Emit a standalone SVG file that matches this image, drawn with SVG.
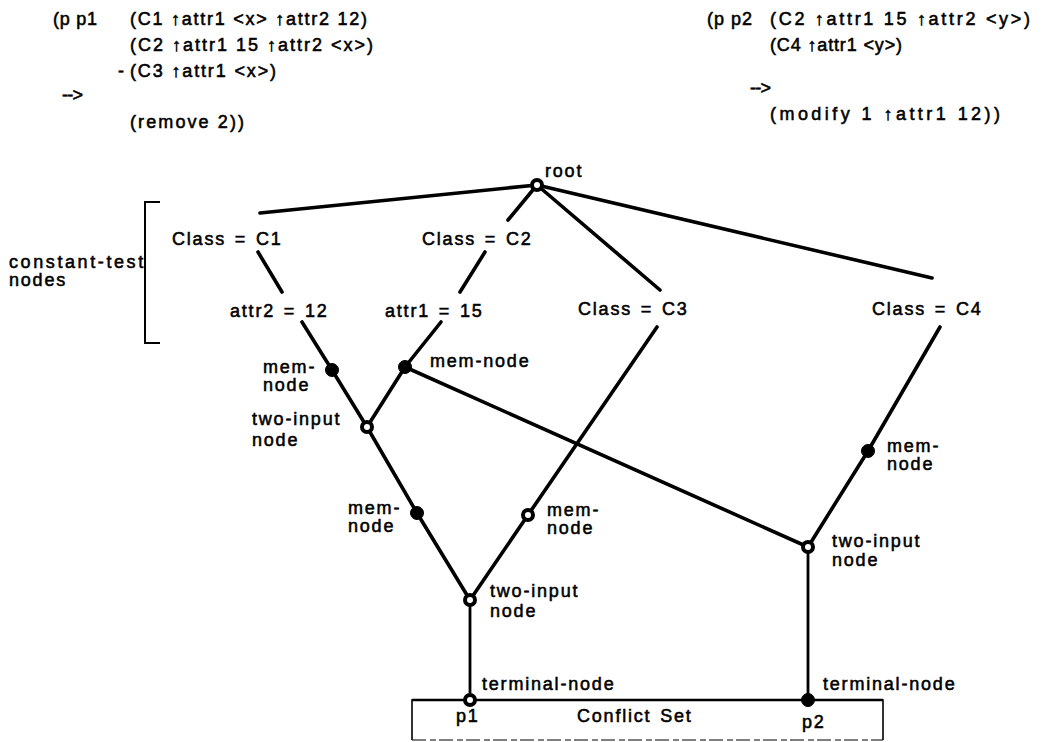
<svg xmlns="http://www.w3.org/2000/svg" width="1045" height="742" viewBox="0 0 1045 742">
<style>
text{font-family:"Liberation Sans",Arial,Helvetica,sans-serif;font-size:18px;fill:#000;stroke:#000;stroke-width:0.55px;letter-spacing:1.8px;word-spacing:2px}
.code{letter-spacing:0;word-spacing:0}
.edge{stroke:#000;stroke-width:3.6;fill:none;stroke-linecap:round;stroke-linejoin:round}
.thin{stroke-width:2.8}
.fill{fill:#000;stroke:#000;stroke-width:1}
.ring{fill:#fff;stroke:#000;stroke-width:4}
.box{fill:none;stroke:#000;stroke-width:1.6}
</style>
<rect width="1045" height="742" fill="#fff"/>
<g id="production-p1">
<text class="code" x="53" y="25" textLength="44" lengthAdjust="spacing">(p p1</text>
<text class="code" x="130" y="25" textLength="237" lengthAdjust="spacing">(C1 ↑attr1 &lt;x&gt;  ↑attr2 12)</text>
<text class="code" x="130" y="51" textLength="243" lengthAdjust="spacing">(C2 ↑attr1 15  ↑attr2 &lt;x&gt;)</text>
<text class="code" x="118" y="77">-</text>
<text class="code" x="130" y="77" textLength="146" lengthAdjust="spacing">(C3 ↑attr1 &lt;x&gt;)</text>
<text class="code" x="62" y="101" textLength="21" lengthAdjust="spacing">--&gt;</text>
<text class="code" x="130" y="128" textLength="114" lengthAdjust="spacing">(remove 2))</text>
</g>
<g id="production-p2">
<text class="code" x="707" y="25" textLength="45" lengthAdjust="spacing">(p p2</text>
<text class="code" x="770" y="25" textLength="260" lengthAdjust="spacing">(C2 ↑attr1 15  ↑attr2 &lt;y&gt;)</text>
<text class="code" x="770" y="51" textLength="132" lengthAdjust="spacing">(C4 ↑attr1 &lt;y&gt;)</text>
<text class="code" x="750" y="94" textLength="21" lengthAdjust="spacing">--&gt;</text>
<text class="code" x="770" y="120" textLength="230" lengthAdjust="spacing">(modify 1 ↑attr1 12))</text>
</g>
<g id="bracket">
<path d="M160,202 H145 V343 H160" fill="none" stroke="#000" stroke-width="2"/>
<text x="9" y="268" textLength="136" lengthAdjust="spacing">constant-test</text>
<text x="9" y="286">nodes</text>
</g>
<g id="connectors">
<line class="edge" x1="537" y1="185" x2="260" y2="213"/>
<line class="edge" x1="537" y1="185" x2="508" y2="220"/>
<line class="edge" x1="537" y1="185" x2="660" y2="290"/>
<line class="edge" x1="537" y1="185" x2="932" y2="278"/>
<line class="edge" x1="258" y1="252" x2="282" y2="292"/>
<line class="edge" x1="485" y1="252" x2="460" y2="292"/>
<polyline class="edge" points="302,322 332,370 367,427 417,513 470,600"/>
<polyline class="edge" points="441,322 405,367 367,427"/>
<line class="edge" x1="405" y1="367" x2="808" y2="547"/>
<polyline class="edge" points="657,327 528,515 470,600"/>
<polyline class="edge" points="940,327 868,451 808,547"/>
<line class="edge thin" x1="470" y1="600" x2="470" y2="700"/>
<line class="edge thin" x1="808" y1="547" x2="808" y2="700"/>
</g>
<g id="n-root"><circle class="ring" cx="537" cy="185" r="5"/><text x="545" y="177">root</text></g>
<g id="n-class-c1"><text x="172" y="245">Class = C1</text></g>
<g id="n-class-c2"><text x="422" y="245">Class = C2</text></g>
<g id="n-class-c3"><text x="578" y="315">Class = C3</text></g>
<g id="n-class-c4"><text x="872" y="315">Class = C4</text></g>
<g id="n-attr2"><text x="230" y="317">attr2 = 12</text></g>
<g id="n-attr1"><text x="385" y="317">attr1 = 15</text></g>
<g id="n-mem1"><circle class="fill" cx="332" cy="370" r="6.5"/><text x="263" y="373">mem-</text><text x="263" y="391">node</text></g>
<g id="n-mem2"><circle class="fill" cx="405" cy="367" r="6.5"/><text x="430" y="367">mem-node</text></g>
<g id="n-join1"><circle class="ring" cx="367" cy="427" r="5"/><text x="252" y="425">two-input</text><text x="252" y="446">node</text></g>
<g id="n-mem3"><circle class="fill" cx="417" cy="513" r="6.5"/><text x="348" y="514">mem-</text><text x="348" y="532">node</text></g>
<g id="n-mem4"><circle class="ring" cx="528" cy="515" r="5"/><text x="547" y="516">mem-</text><text x="547" y="534">node</text></g>
<g id="n-join2"><circle class="ring" cx="470" cy="600" r="5"/><text x="490" y="597">two-input</text><text x="490" y="617">node</text></g>
<g id="n-mem5"><circle class="fill" cx="868" cy="451" r="6.5"/><text x="887" y="452">mem-</text><text x="887" y="470">node</text></g>
<g id="n-join3"><circle class="ring" cx="808" cy="547" r="5"/><text x="832" y="547">two-input</text><text x="832" y="566">node</text></g>
<g id="conflict-set">
<path class="box" d="M412,740 V700 H883 V740"/>
<line x1="412" y1="740" x2="883" y2="740" stroke="#000" stroke-width="1.2" stroke-dasharray="14,4,6,3"/>
<line x1="412" y1="700" x2="883" y2="700" stroke="#000" stroke-width="2.4"/>
<text x="577" y="722">Conflict Set</text>
</g>
<g id="n-term1"><circle class="ring" cx="470" cy="700" r="5"/><text x="482" y="690">terminal-node</text><text x="456" y="722">p1</text></g>
<g id="n-term2"><circle class="fill" cx="808" cy="700" r="6.5"/><text x="823" y="690">terminal-node</text><text x="802" y="728">p2</text></g>
</svg>
